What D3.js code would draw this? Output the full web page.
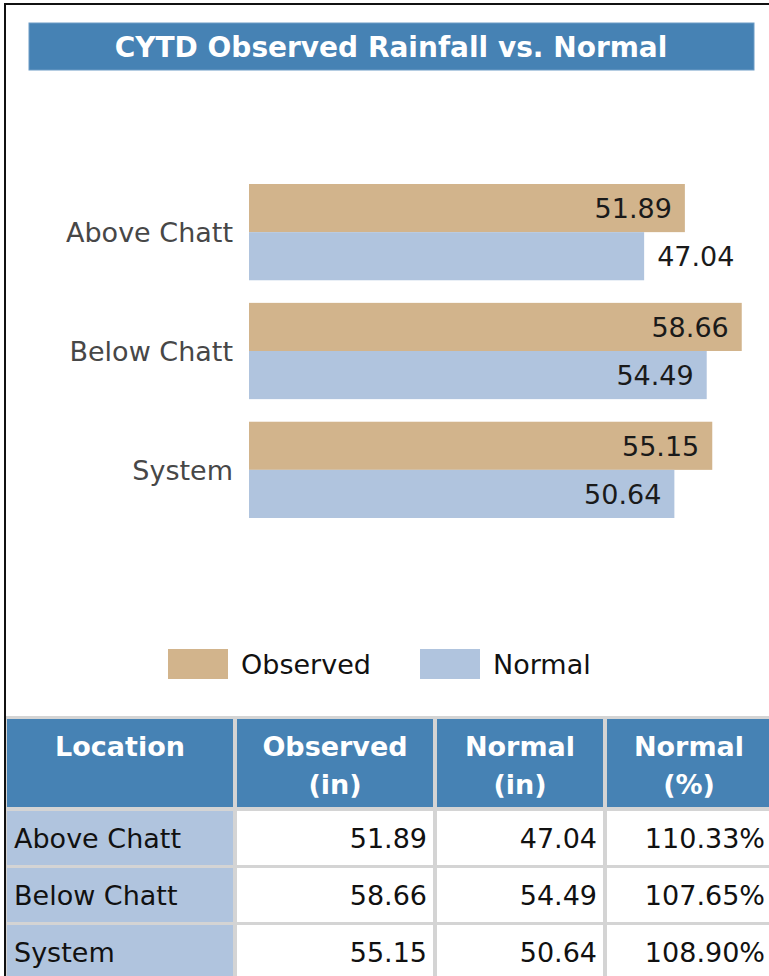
<!DOCTYPE html>
<html>
<head>
<meta charset="utf-8">
<script src="https://cdn.jsdelivr.net/npm/d3@7"></script>
<style>
  html, body { margin: 0; padding: 0; background: #fff; }
  svg { display: block; }
  text { font-family: "DejaVu Sans", Verdana, sans-serif; }
</style>
</head>
<body>
<div id="chart"></div>
<script>
// ---- data ----
const title = "CYTD Observed Rainfall vs. Normal";
const categories = ["Above Chatt", "Below Chatt", "System"];
const seriesNames = ["Observed", "Normal"];
const observed = [51.89, 58.66, 55.15];
const normal = [47.04, 54.49, 50.64];
const normalPct = [110.33, 107.65, 108.90];
const tableHeaders = [["Location"], ["Observed", "(in)"], ["Normal", "(in)"], ["Normal", "(%)"]];

// ---- layout ----
const W = 769, H = 976;
const colors = { Observed: "#D2B48C", Normal: "#B0C4DE" };
const steel = "#4682B4";

const svg = d3.select("#chart").append("svg").attr("width", W).attr("height", H);

// outer frame
svg.append("rect").attr("x", 5).attr("y", 4).attr("width", W + 10).attr("height", H + 10)
  .attr("fill", "#fff").attr("stroke", "#111").attr("stroke-width", 2);

// title bar
svg.append("rect").attr("x", 29).attr("y", 23).attr("width", 725).attr("height", 47)
  .attr("fill", steel).attr("stroke", "#6d9cc6").attr("stroke-width", 1);
svg.append("text").attr("x", 391).attr("y", 57).attr("text-anchor", "middle")
  .attr("fill", "#fff").attr("font-weight", "bold").attr("font-size", 28).text(title);

// scales
const x = d3.scaleLinear().domain([0, 60]).range([249, 753]);
const y = d3.scaleBand().domain(categories).range([184, 518]).paddingInner(0.19).paddingOuter(0);
const ys = d3.scaleBand().domain(seriesNames).range([0, y.bandwidth()]);

const rows = categories.map((c, i) => ({ cat: c, Observed: observed[i], Normal: normal[i], pct: normalPct[i] }));

// category axis labels
svg.append("g").selectAll("text").data(categories).join("text")
  .attr("x", 233).attr("y", d => y(d) + y.bandwidth() / 2).attr("dy", "0.36em")
  .attr("text-anchor", "end").attr("font-size", 27).attr("fill", "#474747").text(d => d);

// bars
const groups = svg.append("g").selectAll("g").data(rows).join("g")
  .attr("transform", d => `translate(0,${y(d.cat)})`);

groups.selectAll("rect").data(d => seriesNames.map(s => ({ s, v: d[s] }))).join("rect")
  .attr("x", x(0)).attr("y", d => ys(d.s)).attr("height", ys.bandwidth())
  .attr("width", d => x(d.v) - x(0)).attr("fill", d => colors[d.s]);

groups.selectAll("text.val").data(d => seriesNames.map(s => ({ s, v: d[s] }))).join("text")
  .attr("class", "val")
  .attr("x", d => d.v >= 50 ? x(d.v) - 13 : x(d.v) + 13)
  .attr("text-anchor", d => d.v >= 50 ? "end" : "start")
  .attr("y", d => ys(d.s) + ys.bandwidth() / 2).attr("dy", "0.36em")
  .attr("font-size", 27).attr("fill", "#1a1a1a").text(d => d3.format(".2f")(d.v));

// legend
const legendPos = [168, 420];
const leg = svg.append("g").selectAll("g").data(seriesNames).join("g")
  .attr("transform", (d, i) => `translate(${legendPos[i]},649)`);
leg.append("rect").attr("width", 60).attr("height", 30).attr("fill", d => colors[d]);
leg.append("text").attr("x", 73).attr("y", 15).attr("dy", "0.36em")
  .attr("font-size", 27).attr("fill", "#111").text(d => d);

// table
const colEdges = [7, 237, 437, 607, 775];
const gap = 4;
svg.append("rect").attr("x", 6).attr("y", 716).attr("width", W).attr("height", H - 716).attr("fill", "#d4d4d4");

const hdr = svg.append("g");
tableHeaders.forEach((lines, ci) => {
  const x0 = colEdges[ci], x1 = colEdges[ci + 1] - gap;
  hdr.append("rect").attr("x", x0).attr("y", 719).attr("width", x1 - x0).attr("height", 88).attr("fill", steel);
  hdr.append("text").attr("x", (x0 + x1) / 2).attr("y", 746).attr("dy", "0.36em")
    .attr("text-anchor", "middle").attr("font-size", 27).attr("font-weight", "bold").attr("fill", "#fff")
    .selectAll("tspan").data(lines).join("tspan")
    .attr("x", (x0 + x1) / 2).attr("dy", (d, i) => i === 0 ? "0.36em" : 38).text(d => d);
});

const rowTop = i => 811 + i * 57;
const rowH = 54;
const body = svg.append("g");
rows.forEach((r, i) => {
  const cells = [r.cat, d3.format(".2f")(r.Observed), d3.format(".2f")(r.Normal), d3.format(".2f")(r.pct) + "%"];
  cells.forEach((txt, ci) => {
    const x0 = colEdges[ci], x1 = colEdges[ci + 1] - gap;
    body.append("rect").attr("x", x0).attr("y", rowTop(i)).attr("width", x1 - x0).attr("height", rowH)
      .attr("fill", ci === 0 ? "#B0C4DE" : "#fff");
    body.append("text")
      .attr("x", ci === 0 ? x0 + 7 : x1 - 6)
      .attr("text-anchor", ci === 0 ? "start" : "end")
      .attr("y", rowTop(i) + rowH / 2).attr("dy", "0.36em")
      .attr("font-size", 27).attr("fill", "#111").text(txt);
  });
});
</script>
</body>
</html>
